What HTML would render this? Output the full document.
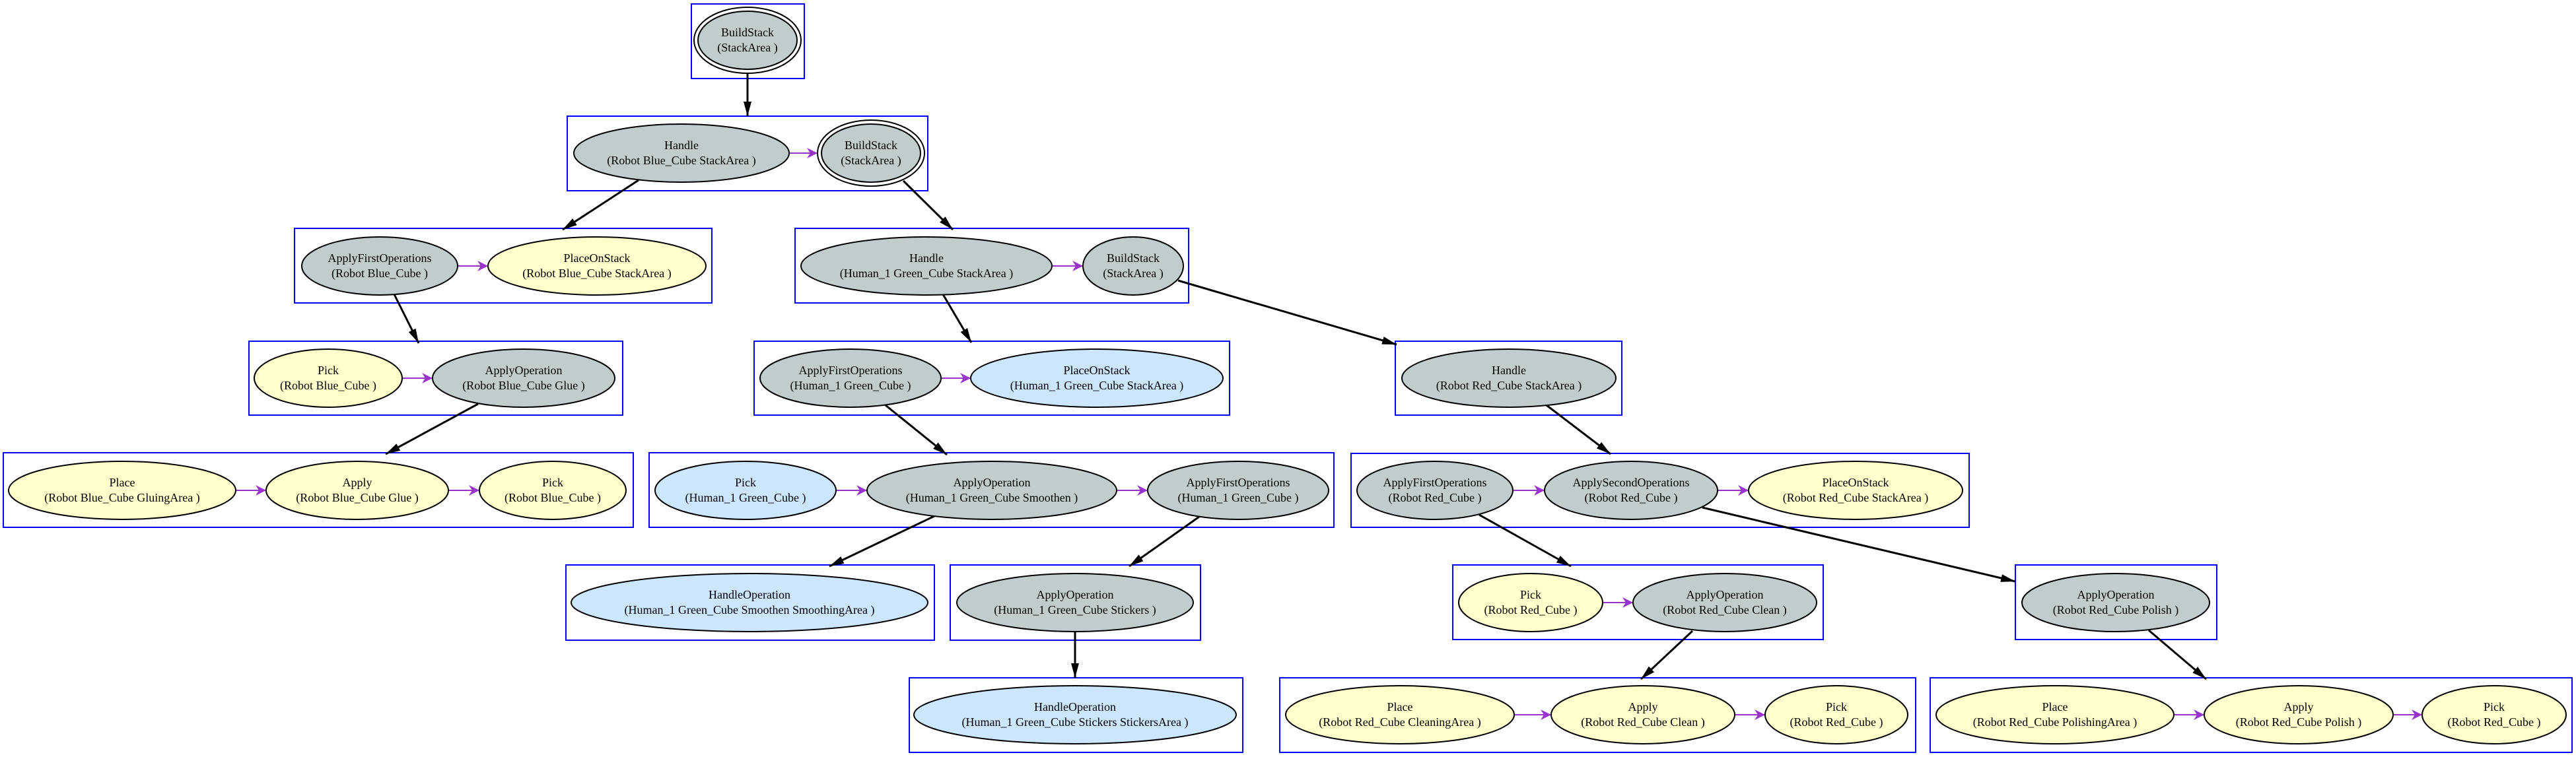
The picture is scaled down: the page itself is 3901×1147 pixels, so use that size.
<!DOCTYPE html>
<html><head><meta charset="utf-8"><style>
html,body{margin:0;padding:0;background:#fff;}
svg{display:block;}
text{font-family:"Liberation Serif",serif;font-size:18px;fill:#000;text-anchor:middle;dominant-baseline:central;}
</style></head><body>
<svg width="3901" height="1147" viewBox="0 0 3901 1147" xmlns="http://www.w3.org/2000/svg">
<defs>
<marker id="bk" markerUnits="userSpaceOnUse" markerWidth="24" markerHeight="16" refX="22" refY="8" orient="auto"><path d="M0,2 L22,8 L0,14 Z" fill="#000"/></marker>
<marker id="pu" markerUnits="userSpaceOnUse" markerWidth="18" markerHeight="18" refX="16" refY="9" orient="auto"><path d="M0,1 L16,9 L0,17 L5,9 Z" fill="#9933cc"/></marker>
</defs>
<g fill="none" stroke="#0000ff" stroke-width="2">
<rect x="1047" y="6" width="171" height="113"/>
<rect x="859" y="176" width="546" height="113"/>
<rect x="446" y="346" width="632" height="113"/>
<rect x="1204" y="346" width="596" height="113"/>
<rect x="377" y="517" width="566" height="112"/>
<rect x="1142" y="517" width="720" height="112"/>
<rect x="5" y="686" width="954" height="113"/>
<rect x="983" y="686" width="1037" height="113"/>
<rect x="857" y="856" width="558" height="114"/>
<rect x="1439" y="856" width="379" height="114"/>
<rect x="1377" y="1027" width="505" height="113"/>
<rect x="2113" y="517" width="343" height="112"/>
<rect x="2046" y="687" width="936" height="112"/>
<rect x="2200" y="856" width="561" height="113"/>
<rect x="3052" y="856" width="305" height="113"/>
<rect x="1938" y="1027" width="963" height="113"/>
<rect x="2923" y="1027" width="972" height="113"/>
</g>
<g stroke="#000" stroke-width="3" fill="none" marker-end="url(#bk)">
<line x1="1132" y1="111" x2="1132" y2="176"/>
<line x1="967" y1="273" x2="852" y2="348"/>
<line x1="1368" y1="274" x2="1443" y2="348"/>
<line x1="597" y1="446" x2="634" y2="520"/>
<line x1="1428" y1="446" x2="1471" y2="519"/>
<line x1="1784" y1="425" x2="2115" y2="522"/>
<line x1="724" y1="612" x2="584" y2="688"/>
<line x1="1341" y1="614" x2="1434" y2="689"/>
<line x1="1415" y1="782" x2="1256" y2="858"/>
<line x1="1816" y1="783" x2="1710" y2="858"/>
<line x1="1628" y1="956" x2="1628" y2="1027"/>
<line x1="2342" y1="614" x2="2439" y2="688"/>
<line x1="2240" y1="780" x2="2379" y2="858"/>
<line x1="2578" y1="769" x2="3052" y2="881"/>
<line x1="2563" y1="956" x2="2485" y2="1029"/>
<line x1="3254" y1="955" x2="3341" y2="1029"/>
</g>
<g stroke="#9933cc" stroke-width="2" marker-end="url(#pu)">
<line x1="1195" y1="232" x2="1238" y2="232"/>
<line x1="693" y1="403" x2="739" y2="403"/>
<line x1="1593" y1="403" x2="1640" y2="403"/>
<line x1="609" y1="573" x2="655" y2="573"/>
<line x1="1425" y1="573" x2="1470" y2="573"/>
<line x1="357" y1="743" x2="403" y2="743"/>
<line x1="679" y1="743" x2="726" y2="743"/>
<line x1="1266" y1="743" x2="1313" y2="743"/>
<line x1="1691" y1="743" x2="1738" y2="743"/>
<line x1="2291" y1="743" x2="2339" y2="743"/>
<line x1="2601" y1="743" x2="2648" y2="743"/>
<line x1="2427" y1="913" x2="2473" y2="913"/>
<line x1="2293" y1="1083" x2="2349" y2="1083"/>
<line x1="2627" y1="1083" x2="2673" y2="1083"/>
<line x1="3292" y1="1083" x2="3338" y2="1083"/>
<line x1="3624" y1="1083" x2="3668" y2="1083"/>
</g>
<g stroke="#000" stroke-width="2">
<ellipse cx="1132" cy="61" rx="81" ry="50" fill="none"/>
<ellipse cx="1132" cy="61" rx="75" ry="44" fill="#c1cccc"/>
<ellipse cx="1032" cy="232" rx="163" ry="44" fill="#c1cccc"/>
<ellipse cx="1319" cy="232" rx="81" ry="50" fill="none"/>
<ellipse cx="1319" cy="232" rx="75" ry="44" fill="#c1cccc"/>
<ellipse cx="575" cy="403" rx="118" ry="44" fill="#c1cccc"/>
<ellipse cx="904" cy="403" rx="165" ry="44" fill="#ffffcc"/>
<ellipse cx="1403" cy="403" rx="190" ry="44" fill="#c1cccc"/>
<ellipse cx="1716" cy="403" rx="76" ry="44" fill="#c1cccc"/>
<ellipse cx="497" cy="573" rx="112" ry="44" fill="#ffffcc"/>
<ellipse cx="793" cy="573" rx="138" ry="44" fill="#c1cccc"/>
<ellipse cx="1288" cy="573" rx="137" ry="44" fill="#c1cccc"/>
<ellipse cx="1661" cy="573" rx="191" ry="44" fill="#cce6ff"/>
<ellipse cx="185" cy="743" rx="172" ry="44" fill="#ffffcc"/>
<ellipse cx="541" cy="743" rx="138" ry="44" fill="#ffffcc"/>
<ellipse cx="837" cy="743" rx="111" ry="44" fill="#ffffcc"/>
<ellipse cx="1129" cy="743" rx="137" ry="44" fill="#cce6ff"/>
<ellipse cx="1502" cy="743" rx="189" ry="44" fill="#c1cccc"/>
<ellipse cx="1875" cy="743" rx="137" ry="44" fill="#c1cccc"/>
<ellipse cx="1135" cy="913" rx="270" ry="44" fill="#cce6ff"/>
<ellipse cx="1628" cy="913" rx="179" ry="44" fill="#c1cccc"/>
<ellipse cx="1628" cy="1083" rx="244" ry="44" fill="#cce6ff"/>
<ellipse cx="2285" cy="573" rx="162" ry="44" fill="#c1cccc"/>
<ellipse cx="2173" cy="743" rx="118" ry="44" fill="#c1cccc"/>
<ellipse cx="2470" cy="743" rx="131" ry="44" fill="#c1cccc"/>
<ellipse cx="2810" cy="743" rx="162" ry="44" fill="#ffffcc"/>
<ellipse cx="2318" cy="913" rx="109" ry="44" fill="#ffffcc"/>
<ellipse cx="2612" cy="913" rx="139" ry="44" fill="#c1cccc"/>
<ellipse cx="3204" cy="913" rx="142" ry="44" fill="#c1cccc"/>
<ellipse cx="2120" cy="1083" rx="173" ry="44" fill="#ffffcc"/>
<ellipse cx="2488" cy="1083" rx="139" ry="44" fill="#ffffcc"/>
<ellipse cx="2781" cy="1083" rx="108" ry="44" fill="#ffffcc"/>
<ellipse cx="3112" cy="1083" rx="180" ry="44" fill="#ffffcc"/>
<ellipse cx="3481" cy="1083" rx="143" ry="44" fill="#ffffcc"/>
<ellipse cx="3777" cy="1083" rx="109" ry="44" fill="#ffffcc"/>
</g>
<g>
<text x="1132" y="49">BuildStack</text><text x="1132" y="72">(StackArea )</text>
<text x="1032" y="220">Handle</text><text x="1032" y="243">(Robot Blue_Cube StackArea )</text>
<text x="1319" y="220">BuildStack</text><text x="1319" y="243">(StackArea )</text>
<text x="575" y="391">ApplyFirstOperations</text><text x="575" y="414">(Robot Blue_Cube )</text>
<text x="904" y="391">PlaceOnStack</text><text x="904" y="414">(Robot Blue_Cube StackArea )</text>
<text x="1403" y="391">Handle</text><text x="1403" y="414">(Human_1 Green_Cube StackArea )</text>
<text x="1716" y="391">BuildStack</text><text x="1716" y="414">(StackArea )</text>
<text x="497" y="561">Pick</text><text x="497" y="584">(Robot Blue_Cube )</text>
<text x="793" y="561">ApplyOperation</text><text x="793" y="584">(Robot Blue_Cube Glue )</text>
<text x="1288" y="561">ApplyFirstOperations</text><text x="1288" y="584">(Human_1 Green_Cube )</text>
<text x="1661" y="561">PlaceOnStack</text><text x="1661" y="584">(Human_1 Green_Cube StackArea )</text>
<text x="185" y="731">Place</text><text x="185" y="754">(Robot Blue_Cube GluingArea )</text>
<text x="541" y="731">Apply</text><text x="541" y="754">(Robot Blue_Cube Glue )</text>
<text x="837" y="731">Pick</text><text x="837" y="754">(Robot Blue_Cube )</text>
<text x="1129" y="731">Pick</text><text x="1129" y="754">(Human_1 Green_Cube )</text>
<text x="1502" y="731">ApplyOperation</text><text x="1502" y="754">(Human_1 Green_Cube Smoothen )</text>
<text x="1875" y="731">ApplyFirstOperations</text><text x="1875" y="754">(Human_1 Green_Cube )</text>
<text x="1135" y="901">HandleOperation</text><text x="1135" y="924">(Human_1 Green_Cube Smoothen SmoothingArea )</text>
<text x="1628" y="901">ApplyOperation</text><text x="1628" y="924">(Human_1 Green_Cube Stickers )</text>
<text x="1628" y="1071">HandleOperation</text><text x="1628" y="1094">(Human_1 Green_Cube Stickers StickersArea )</text>
<text x="2285" y="561">Handle</text><text x="2285" y="584">(Robot Red_Cube StackArea )</text>
<text x="2173" y="731">ApplyFirstOperations</text><text x="2173" y="754">(Robot Red_Cube )</text>
<text x="2470" y="731">ApplySecondOperations</text><text x="2470" y="754">(Robot Red_Cube )</text>
<text x="2810" y="731">PlaceOnStack</text><text x="2810" y="754">(Robot Red_Cube StackArea )</text>
<text x="2318" y="901">Pick</text><text x="2318" y="924">(Robot Red_Cube )</text>
<text x="2612" y="901">ApplyOperation</text><text x="2612" y="924">(Robot Red_Cube Clean )</text>
<text x="3204" y="901">ApplyOperation</text><text x="3204" y="924">(Robot Red_Cube Polish )</text>
<text x="2120" y="1071">Place</text><text x="2120" y="1094">(Robot Red_Cube CleaningArea )</text>
<text x="2488" y="1071">Apply</text><text x="2488" y="1094">(Robot Red_Cube Clean )</text>
<text x="2781" y="1071">Pick</text><text x="2781" y="1094">(Robot Red_Cube )</text>
<text x="3112" y="1071">Place</text><text x="3112" y="1094">(Robot Red_Cube PolishingArea )</text>
<text x="3481" y="1071">Apply</text><text x="3481" y="1094">(Robot Red_Cube Polish )</text>
<text x="3777" y="1071">Pick</text><text x="3777" y="1094">(Robot Red_Cube )</text>
</g>
</svg>
</body></html>
